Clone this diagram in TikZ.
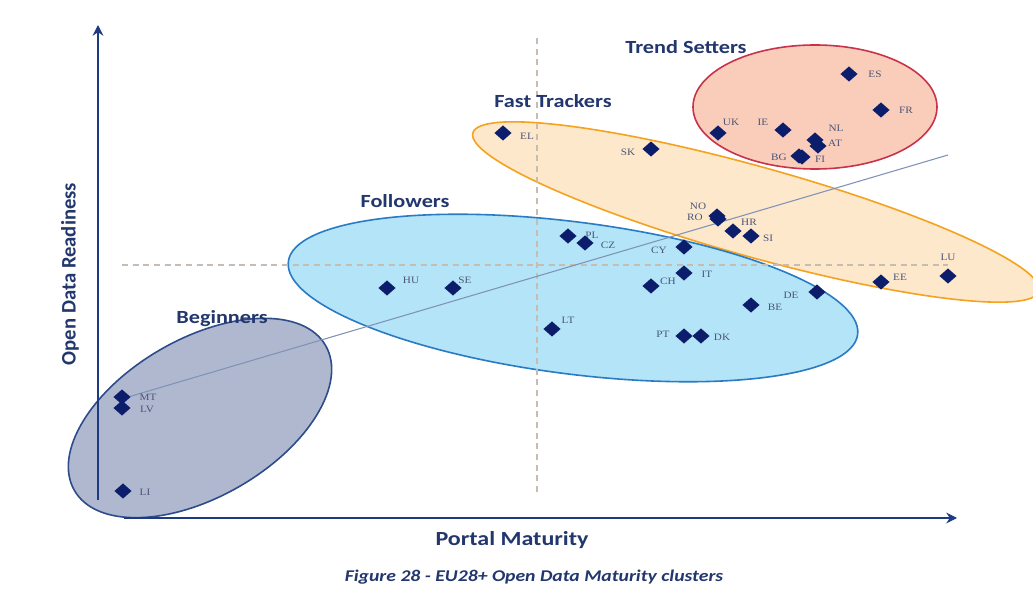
\documentclass[tikz,border=0pt]{standalone}
\usepackage{fontspec}
\setmainfont{Liberation Serif}
\newfontfamily\calw[FakeStretch=1.2]{Carlito}
\newfontfamily\calr{Carlito}
\newfontfamily\ccf[FakeStretch=1.15]{Liberation Serif}
\usetikzlibrary{arrows.meta,shapes.geometric}
\definecolor{axisc}{HTML}{1F3B80}
\definecolor{ttlc}{HTML}{22376E}
\definecolor{mk}{HTML}{0B1D6B}
\definecolor{ccc}{HTML}{4A5578}
\definecolor{dashc}{HTML}{C6BCB2}
\definecolor{trendc}{HTML}{7F93B8}
\definecolor{tsfill}{HTML}{F9CDBA}
\definecolor{tsdraw}{HTML}{C8324B}
\definecolor{ftfill}{HTML}{FDE8CB}
\definecolor{ftdraw}{HTML}{F5A21E}
\definecolor{fofill}{HTML}{B4E4F7}
\definecolor{fodraw}{HTML}{2A7BC4}
\definecolor{befill}{HTML}{AFB8CE}
\definecolor{bedraw}{HTML}{2E4C8C}
\tikzset{
  axisline/.style={draw=axisc, line width=2.2pt, -{Stealth[length=8pt,width=8pt]}},
  ttl/.style={text=ttlc, font=\calw\bfseries\fontsize{13.9pt}{16pt}\selectfont, inner sep=0pt},
  axl/.style={text=ttlc, font=\calw\bfseries\fontsize{15pt}{18pt}\selectfont, inner sep=0pt},
  capt/.style={text=ttlc, font=\calw\bfseries\itshape\fontsize{12.3pt}{14pt}\selectfont, inner sep=0pt},
  dot/.style={diamond, fill=mk, draw=none, inner sep=0pt, minimum width=13pt, minimum height=11.5pt},
  cc/.style={text=ccc, font=\ccf\fontsize{7.3pt}{9pt}\selectfont, inner sep=0pt},
  guide/.style={draw=dashc, line width=1.1pt, dash pattern=on 4.5pt off 3.5pt},
  trendline/.style={draw=trendc, line width=0.8pt},
  cluster/.style={line width=1.2pt}
}
\begin{document}
\begin{tikzpicture}[x=0.75pt,y=-0.75pt]
\useasboundingbox[fill=white] (0,0) rectangle (1033,595);
% clusters
\begin{scope}[shift={(756,212)},rotate=-15.6]
  \draw[cluster, fill=ftfill, draw=ftdraw] (0,0) ellipse [x radius=294, y radius=45];
\end{scope}
\draw[cluster, fill=tsfill, draw=tsdraw] (815,107) ellipse [x radius=122, y radius=62];
\begin{scope}[shift={(573,298)},rotate=-7.3]
  \draw[cluster, fill=fofill, draw=fodraw] (0,0) ellipse [x radius=287, y radius=76];
\end{scope}
\begin{scope}[shift={(200,418)},rotate=30]
  \draw[cluster, fill=befill, draw=bedraw] (0,0) ellipse [x radius=145, y radius=79];
\end{scope}
% guides
\coordinate (vt) at (537,38);
\coordinate (vb) at (537,495);
\coordinate (hl) at (122,265);
\coordinate (hr) at (948,265);
\draw[guide] (vt) -- (vb);
\draw[guide] (hl) -- (hr);
\coordinate (tl) at (118,400);
\coordinate (tr) at (948,155);
\draw[trendline] (tl) -- (tr);
% axes
\coordinate (yb) at (98,500);
\coordinate (yt) at (98,25);
\coordinate (xa) at (124,518);
\coordinate (xb) at (957,518);
\draw[axisline] (yb) -- (yt);
\draw[axisline] (xa) -- (xb);
% titles
\node[ttl] (ts) at (686,47) {Trend Setters};
\node[ttl] (ft) at (553,101) {Fast Trackers};
\node[ttl] (fo) at (405,201) {Followers};
\node[ttl] (bg) at (222,319) {Beginners};
\node[axl] (xlab) at (512,540) {Portal Maturity};
\node[text=ttlc, font=\calr\bfseries\fontsize{15.5pt}{18pt}\selectfont, inner sep=0pt, rotate=90] (ylab) at (70,274) {Open Data Readiness};
\node[capt] (cap) at (534,577) {Figure 28 - EU28+ Open Data Maturity clusters};
% countries
\foreach \n/\x/\y/\lx/\ly in {
  ES/849/74/875/74, FR/881/110/906/110, UK/718/133/731/122, IE/783/130/763/122,
  NL/815/140/836/128, AT/818/146/835/143, BG/799/156/779/157, FI/802/157/820/159,
  EL/503/133/527/136, SK/651/149/628/152, NO/717/216/698/206, RO/718/219/695/217,
  HR/733/231/749/222, SI/751/236/768/238, CY/684/247/659/250, EE/881/282/900/277,
  LU/948/276/948/257, PL/568/236/592/235, CZ/585/243/608/245, IT/684/273/707/274,
  CH/651/286/668/281, BE/751/305/775/307, DE/817/292/791/295, LT/552/329/568/320,
  PT/684/336/663/334, DK/701/336/722/337, HU/387/288/411/280, SE/453/288/465/280,
  MT/122/397/148/397, LV/122/408/147/409, LI/123/491/145/492}
{
  \node[dot] (\n) at (\x,\y) {};
  \node[cc] (l\n) at (\lx,\ly) {\n};
}
\end{tikzpicture}
\end{document}
